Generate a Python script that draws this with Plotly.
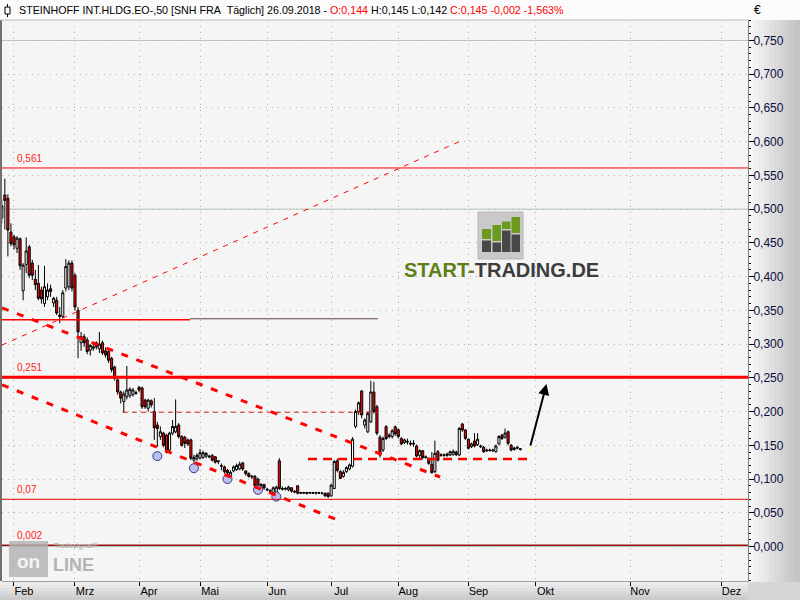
import numpy as np
import pandas as pd
import plotly.graph_objects as go

# ---------------- data ----------------
first_day = "2018-01-26"
last_day = "2018-09-26"
holidays = ["2018-03-30", "2018-04-02", "2018-05-01"]
origin_day = "2018-02-01"

month_labels = ["Feb", "Mrz", "Apr", "Mai", "Jun", "Jul", "Aug", "Sep", "Okt", "Nov", "Dez"]
month_starts = ["2018-02-01", "2018-03-01", "2018-04-01", "2018-05-01", "2018-06-01",
                "2018-07-01", "2018-08-01", "2018-09-01", "2018-10-01", "2018-11-01", "2018-12-01"]

open_ = [
    .487, .521, .516, .466,
    .459, .442, .456, .379, .418, .444, .420, .396, .390, .380,
    .360, .370, .382, .361, .365, .343, .341, .383, .385, .420,
    .402, .350, .302, .311, .306, .291, .296, .302, .293, .302,
    .290, .289, .279, .266, .247, .229, .215, .222, .224, .225,
    .228, .236, .235, .217, .205, .216, .200, .180, .163, .168,
    .165, .143, .168, .170, .180, .163, .162, .158, .158, .128,
    .130, .131, .132, .134, .134, .135, .133, .127, .119, .118,
    .113, .105, .112, .114, .115, .124, .112, .108, .103, .104,
    .100, .085, .092, .085, .083, .080, .080, .127, .086, .085,
    .084, .087, .082, .090, .080, .079, .080, .079, .080, .079,
    .080, .079, .079, .079, .075, .086, .127, .111, .104, .111,
    .115, .119, .178, .200, .2305, .180, .170, .185, .229, .207,
    .162, .143, .1776, .163, .163, .1776, .173, .160, .154, .156,
    .153, .153, .149, .135, .142, .133, .1307, .1218, .111, .1405,
    .135, .136, .135, .1356, .136, .140, .1356, .1816, .1727, .159,
    .148, .1564, .151, .149, .147, .143, .142, .143, .1405, .152,
    .165, .162, .170, .150, .146, .147, .144]

high = [
    .514, .545, .522, .479,
    .462, .460, .458, .420, .458, .447, .425, .410, .417, .385,
    .416, .390, .388, .370, .370, .355, .380, .426, .424, .424,
    .405, .355, .318, .315, .310, .300, .300, .304, .318, .305,
    .295, .292, .281, .268, .249, .231, .230, .2675, .236, .235,
    .231, .238, .237, .219, .219, .218, .220, .185, .178, .170,
    .167, .170, .1875, .218, .183, .165, .164, .160, .160, .136,
    .138, .1445, .142, .140, .136, .137, .134, .128, .123, .120,
    .115, .113, .120, .123, .126, .125, .113, .110, .106, .106,
    .102, .094, .093, .087, .085, .089, .090, .131, .089, .088,
    .090, .088, .083, .091, .081, .081, .081, .081, .081, .081,
    .081, .081, .080, .080, .093, .128, .130, .113, .113, .119,
    .123, .162, .203, .215, .232, .190, .200, .2457, .244, .210,
    .165, .163, .180, .168, .174, .179, .175, .162, .160, .160,
    .157, .158, .151, .144, .143, .135, .132, .140, .157, .143,
    .138, .138, .139, .142, .144, .142, .177, .183, .174, .160,
    .154, .168, .168, .151, .149, .145, .145, .145, .151, .165,
    .167, .175, .172, .152, .148, .149, .145]

low = [
    .479, .470, .430, .445,
    .440, .435, .410, .365, .405, .398, .395, .380, .365, .360,
    .355, .365, .370, .355, .343, .331, .338, .378, .380, .378,
    .350, .279, .290, .296, .285, .283, .290, .292, .287, .284,
    .280, .272, .258, .246, .225, .212, .198, .218, .220, .222,
    .225, .229, .204, .204, .200, .206, .158, .148, .158, .147,
    .138, .140, .165, .168, .160, .148, .146, .149, .128, .123,
    .127, .129, .130, .131, .131, .126, .123, .122, .113, .108,
    .105, .102, .110, .112, .113, .112, .105, .102, .100, .088,
    .086, .082, .084, .082, .080, .076, .0738, .084, .083, .083,
    .082, .080, .079, .077, .078, .078, .077, .078, .078, .077,
    .078, .077, .074, .072, .074, .085, .110, .100, .102, .109,
    .113, .117, .175, .195, .190, .175, .168, .183, .197, .165,
    .132, .140, .158, .160, .160, .164, .160, .150, .152, .151,
    .149, .148, .132, .130, .129, .130, .121, .108, .109, .126,
    .133, .133, .133, .134, .135, .134, .134, .170, .158, .144,
    .146, .147, .149, .146, .139, .140, .141, .140, .139, .150,
    .158, .160, .150, .141, .142, .144, .142]

close = [
    .505, .513, .469, .449,
    .447, .457, .416, .417, .438, .402, .402, .388, .368, .367,
    .385, .380, .378, .368, .346, .341, .376, .415, .420, .383,
    .355, .318, .311, .302, .289, .298, .294, .296, .300, .287,
    .284, .276, .262, .249, .229, .220, .226, .232, .233, .232,
    .227, .232, .207, .207, .217, .210, .176, .175, .170, .150,
    .140, .168, .178, .178, .163, .150, .153, .152, .131, .132,
    .135, .139, .139, .138, .133, .128, .125, .126, .120, .111,
    .109, .110, .118, .120, .122, .115, .108, .104, .104, .090,
    .089, .092, .087, .084, .082, .087, .088, .086, .085, .086,
    .088, .082, .081, .079, .079, .080, .079, .080, .079, .080,
    .079, .079, .075, .074, .091, .126, .113, .101, .110, .117,
    .121, .159, .200, .213, .195, .1875, .197, .229, .200, .168,
    .1356, .160, .160, .165, .1716, .1668, .163, .152, .158, .155,
    .152, .152, .134, .142, .132, .132, .1233, .1094, .138, .128,
    .136, .135, .137, .1405, .141, .136, .175, .1727, .1604, .1455,
    .152, .149, .159, .148, .1405, .142, .143, .142, .149, .163,
    .160, .168, .153, .143, .144, .146, .145]

# horizontal levels drawn on the chart
level_values = [0.561, 0.251, 0.07, 0.002]
level_labels = ["0,561", "0,251", "0,07", "0,002"]

# marked swing lows (dates, values)
swing_dates = ["2018-04-11", "2018-04-27", "2018-05-15", "2018-05-29", "2018-06-06"]
swing_values = [0.134, 0.116, 0.100, 0.084, 0.074]

y_ticks = [round(0.05 * k, 2) for k in range(16)]

# ---------------- axis positions (trading days, then calendar days) ----------------
dates = pd.bdate_range(first_day, last_day)
dates = dates[~dates.isin(pd.to_datetime(holidays))]
assert len(dates) == len(open_) == len(high) == len(low) == len(close)
origin = dates.get_loc(pd.Timestamp(origin_day))
xpos = np.arange(len(dates)) - origin


def pos(d):
    d = pd.Timestamp(d)
    if d <= dates[-1]:
        return int(dates.searchsorted(d)) - origin
    return int(xpos[-1] + (d - dates[-1]).days)


month_pos = [pos(m) for m in month_starts]
swing_x = [pos(d) for d in swing_dates]

# ---------------- geometry helpers (paper coordinates from pixels) ----------------
W, H = 800, 600
ML, MR, MT, MB = 2, 52, 20, 19
PW, PH = W - ML - MR, H - MT - MB


def xp(px):
    return (px - ML) / PW


def yp(py):
    return (H - MB - py) / PH


XR = [-3.93, 240.66]
YR = [-0.0511, 0.7803]

fig = go.Figure()

fig.add_trace(go.Candlestick(
    x=xpos, open=open_, high=high, low=low, close=close,
    increasing=dict(line=dict(color="black", width=1), fillcolor="white"),
    decreasing=dict(line=dict(color="black", width=1), fillcolor="#ff0000"),
    whiskerwidth=0, showlegend=False, hoverinfo="skip"))

fig.add_trace(go.Scatter(
    x=swing_x, y=swing_values, mode="markers", showlegend=False, hoverinfo="skip",
    marker=dict(size=9, color="#b9bff2", line=dict(color="#3a3a80", width=1))))

shapes = []


def rect_px(x0, y0, x1, y1, color, layer="below"):
    shapes.append(dict(type="rect", xref="paper", yref="paper", x0=xp(x0), x1=xp(x1),
                       y0=yp(y1), y1=yp(y0), fillcolor=color, line=dict(width=0), layer=layer))


rect_px(0, 0, 800, 20, "#fbfbfb")
grad = ["#f6f6f6", "#f1f1f1", "#ececec", "#e6e6e6", "#e0e0e0", "#dadada", "#d4d4d4", "#cecece", "#c9c9c9", "#c4c4c4"]
for k, c in enumerate(grad):
    rect_px(748 + k * 5.2, 20, 748 + (k + 1) * 5.2 + 0.5, 582, c)
bgrad = ["#ececec", "#e6e6e6", "#e0e0e0", "#d9d9d9", "#d2d2d2", "#cbcbcb"]
for k, c in enumerate(bgrad):
    rect_px(0, 582 + k * 3, 748, 582 + (k + 1) * 3 + 0.5, c)
rect_px(748, 582, 800, 600, "#d6d6d6")

# solid reference grid lines
for v in [0.0, 0.25, 0.5, 0.75]:
    shapes.append(dict(type="line", xref="paper", yref="y", x0=0, x1=1, y0=v, y1=v,
                       line=dict(color="#b4c6b4", width=1), layer="below"))

# horizontal levels
level_styles = [dict(color="#ff0000", width=1), dict(color="#ff0000", width=3),
                dict(color="#e00000", width=1), dict(color="#a01010", width=1.5)]
for v, st in zip(level_values, level_styles):
    shapes.append(dict(type="line", xref="paper", yref="y", x0=0, x1=1, y0=v, y1=v, line=st))

# resistance segment around 0,336
shapes.append(dict(type="line", xref="x", yref="y", x0=XR[0], x1=57.7, y0=0.336, y1=0.336,
                   line=dict(color="#ff0000", width=1.5)))
shapes.append(dict(type="line", xref="x", yref="y", x0=57.7, x1=119.3, y0=0.3375, y1=0.3375,
                   line=dict(color="#604040", width=1)))

# thin dashed level around 0,2
shapes.append(dict(type="line", xref="x", yref="y", x0=35.7, x1=119.3, y0=0.199, y1=0.199,
                   line=dict(color="#d02020", width=1, dash="5px,4px")))
# thick dashed support 0,13
shapes.append(dict(type="line", xref="x", yref="y", x0=96.4, x1=168.2, y0=0.1297, y1=0.1297,
                   line=dict(color="#ff0000", width=2.5, dash="9px,6px")))
# downward channel
shapes.append(dict(type="line", xref="x", yref="y", x0=XR[0], x1=139.7, y0=0.3538, y1=0.1030,
                   line=dict(color="#ff0000", width=3, dash="7px,9px")))
shapes.append(dict(type="line", xref="x", yref="y", x0=XR[0], x1=106.9, y0=0.2397, y1=0.0378,
                   line=dict(color="#ff0000", width=3, dash="7px,9px")))
# rising thin dashed line
shapes.append(dict(type="line", xref="x", yref="y", x0=XR[0], x1=147.2, y0=0.2985, y1=0.6025,
                   line=dict(color="#ff0000", width=1, dash="5px,6px")))

# frame lines
shapes.append(dict(type="line", xref="paper", yref="paper", x0=xp(1), x1=xp(1), y0=yp(20), y1=yp(581),
                   line=dict(color="#707070", width=2)))
shapes.append(dict(type="line", xref="paper", yref="paper", x0=xp(0), x1=xp(748), y0=yp(20), y1=yp(20),
                   line=dict(color="#c0c0c0", width=1)))

# title icon
shapes.append(dict(type="line", xref="paper", yref="paper", x0=xp(7.5), x1=xp(7.5), y0=yp(4), y1=yp(17),
                   line=dict(color="black", width=1)))
shapes.append(dict(type="rect", xref="paper", yref="paper", x0=xp(5), x1=xp(10), y0=yp(14), y1=yp(7),
                   fillcolor="white", line=dict(color="black", width=1)))

# START-TRADING logo icon
shapes.append(dict(type="rect", xref="paper", yref="paper", x0=xp(478), x1=xp(523), y0=yp(259), y1=yp(212),
                   fillcolor="#c9c9c9", line=dict(color="#b5b5b5", width=1), layer="above"))
bars = [(482, 491, 229, 239), (492.5, 501, 225, 241), (502, 510.5, 221.5, 229), (511.5, 520, 217, 233)]
for x0, x1, gtop, split in bars:
    shapes.append(dict(type="rect", xref="paper", yref="paper", x0=xp(x0), x1=xp(x1), y0=yp(split), y1=yp(gtop),
                       fillcolor="#6b9a1c", line=dict(width=0), layer="above"))
    shapes.append(dict(type="rect", xref="paper", yref="paper", x0=xp(x0), x1=xp(x1), y0=yp(252), y1=yp(split + 1.5),
                       fillcolor="#474747", line=dict(width=0), layer="above"))

# Tradesignal watermark box
shapes.append(dict(type="rect", xref="paper", yref="paper", x0=xp(9), x1=xp(48), y0=yp(577), y1=yp(541),
                   fillcolor="#b0b0b0", opacity=0.8, line=dict(width=0), layer="above"))

# pale marker at arrow tail
shapes.append(dict(type="rect", xref="x", yref="y", x0=168.4, x1=170.0, y0=0.141, y1=0.1475,
                   fillcolor="#fff8c8", line=dict(width=0)))

annotations = []
for v, lab in zip(level_values, level_labels):
    annotations.append(dict(xref="paper", yref="y", x=xp(15), y=v, text=lab, showarrow=False,
                            xanchor="left", yanchor="bottom", yshift=2,
                            font=dict(family="Liberation Sans", size=10, color="#ff2020")))

title_html = ("STEINHOFF INT.HLDG.EO-,50 [SNH FRA&nbsp; Täglich] 26.09.2018 - "
              "<span style='color:#ff0000'>O:0,144</span> H:0,145 L:0,142 "
              "<span style='color:#ff0000'>C:0,145 -0,002 -1,563%</span>")
annotations.append(dict(xref="paper", yref="paper", x=xp(17), y=yp(10), text=title_html, showarrow=False,
                        xanchor="left", yanchor="middle",
                        font=dict(family="Liberation Sans", size=10.7, color="black")))
annotations.append(dict(xref="paper", yref="paper", x=xp(752), y=yp(10), text="€", showarrow=False,
                        xanchor="left", yanchor="middle",
                        font=dict(family="Liberation Sans", size=12, color="black")))

# logo text
annotations.append(dict(xref="paper", yref="paper", x=xp(501), y=yp(270),
                        text="<b><span style='color:#5c7f16'>START-</span><span style='color:#3d3d3d'>TRADING.DE</span></b>",
                        showarrow=False, xanchor="center", yanchor="middle",
                        font=dict(family="Liberation Sans", size=20)))

# watermark text
annotations.append(dict(xref="paper", yref="paper", x=xp(28.5), y=yp(561), text="<b>on</b>", showarrow=False,
                        xanchor="center", yanchor="middle",
                        font=dict(family="Liberation Sans", size=19, color="#f4f4f4")))
annotations.append(dict(xref="paper", yref="paper", x=xp(51), y=yp(565), text="<b>LINE</b>", showarrow=False,
                        xanchor="left", yanchor="middle",
                        font=dict(family="Liberation Sans", size=18, color="#b4b4b4")))
annotations.append(dict(xref="paper", yref="paper", x=xp(52), y=yp(546), text="<b>Tradesignal®</b>", showarrow=False,
                        xanchor="left", yanchor="middle",
                        font=dict(family="Liberation Sans", size=7, color="#b8b8b8")))

# arrow
annotations.append(dict(xref="x", yref="y", axref="x", ayref="y", x=174.6, y=0.241, ax=169.2, ay=0.1475,
                        text="", showarrow=True, arrowhead=2, arrowsize=1.1, arrowwidth=2, arrowcolor="black"))

fig.update_layout(
    width=W, height=H,
    margin=dict(l=ML, r=MR, t=MT, b=MB, pad=0, autoexpand=False),
    paper_bgcolor="#f0f0f0", plot_bgcolor="#f5f5f5",
    separators=",.",
    showlegend=False,
    boxgap=0.02,
    shapes=shapes, annotations=annotations,
    font=dict(family="Liberation Sans", size=11, color="black"),
    xaxis=dict(range=XR, tickmode="array", tickvals=month_pos, ticktext=month_labels,
               showgrid=True, gridcolor="#a9b7a9", griddash="1px,5px", gridwidth=1,
               ticks="outside", ticklen=4, tickcolor="black", ticklabelshift=10,
               ticklabelstandoff=-4,
               tickfont=dict(family="Liberation Sans", size=11, color="black"),
               showline=True, linecolor="#a0a0a0", linewidth=1, zeroline=False,
               rangeslider=dict(visible=False), fixedrange=True),
    yaxis=dict(range=YR, side="right", tickmode="array", tickvals=y_ticks, tickformat=".3f",
               showgrid=True, gridcolor="#a9b7a9", griddash="1px,5px", gridwidth=1,
               ticks="outside", ticklen=5, tickcolor="black", ticklabelstandoff=-3,
               minor=dict(tick0=0, dtick=0.01, ticks="outside", ticklen=2, tickcolor="black", showgrid=False),
               tickfont=dict(family="Liberation Sans", size=12, color="#0c0c40"),
               showline=True, linecolor="#808080", linewidth=1, zeroline=False, fixedrange=True),
)

fig.write_html("out.html", config={"displayModeBar": False},
               post_script="document.body.style.margin='0';document.body.style.overflow='hidden';")
